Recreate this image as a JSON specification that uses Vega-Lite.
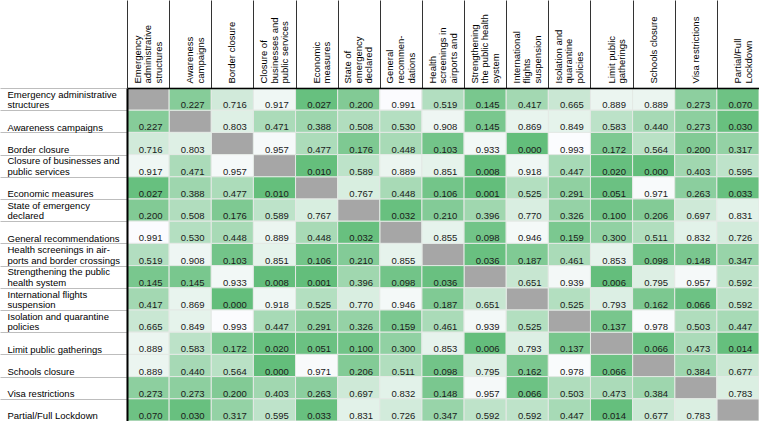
{
  "$schema": "https://vega.github.io/schema/vega-lite/v6.json",
  "width": 632,
  "height": 333,
  "autosize": {"type": "none"},
  "padding": {"left": 127, "top": 88, "right": 0, "bottom": 0},
  "background": "white",
  "config": {"view": {"stroke": "black", "strokeWidth": 1}, "font": "Liberation Sans"},
  "data": {"values": [
    {"row": "Emergency administrative|structures", "c01": null, "c02": 0.227, "c03": 0.716, "c04": 0.917, "c05": 0.027, "c06": 0.200, "c07": 0.991, "c08": 0.519, "c09": 0.145, "c10": 0.417, "c11": 0.665, "c12": 0.889, "c13": 0.889, "c14": 0.273, "c15": 0.070},
    {"row": "|Awareness campaigns", "c01": 0.227, "c02": null, "c03": 0.803, "c04": 0.471, "c05": 0.388, "c06": 0.508, "c07": 0.530, "c08": 0.908, "c09": 0.145, "c10": 0.869, "c11": 0.849, "c12": 0.583, "c13": 0.440, "c14": 0.273, "c15": 0.030},
    {"row": "|Border closure", "c01": 0.716, "c02": 0.803, "c03": null, "c04": 0.957, "c05": 0.477, "c06": 0.176, "c07": 0.448, "c08": 0.103, "c09": 0.933, "c10": 0.000, "c11": 0.993, "c12": 0.172, "c13": 0.564, "c14": 0.200, "c15": 0.317},
    {"row": "Closure of businesses and|public services", "c01": 0.917, "c02": 0.471, "c03": 0.957, "c04": null, "c05": 0.010, "c06": 0.589, "c07": 0.889, "c08": 0.851, "c09": 0.008, "c10": 0.918, "c11": 0.447, "c12": 0.020, "c13": 0.000, "c14": 0.403, "c15": 0.595},
    {"row": "|Economic measures", "c01": 0.027, "c02": 0.388, "c03": 0.477, "c04": 0.010, "c05": null, "c06": 0.767, "c07": 0.448, "c08": 0.106, "c09": 0.001, "c10": 0.525, "c11": 0.291, "c12": 0.051, "c13": 0.971, "c14": 0.263, "c15": 0.033},
    {"row": "State of emergency|declared", "c01": 0.200, "c02": 0.508, "c03": 0.176, "c04": 0.589, "c05": 0.767, "c06": null, "c07": 0.032, "c08": 0.210, "c09": 0.396, "c10": 0.770, "c11": 0.326, "c12": 0.100, "c13": 0.206, "c14": 0.697, "c15": 0.831},
    {"row": "|General recommendations", "c01": 0.991, "c02": 0.530, "c03": 0.448, "c04": 0.889, "c05": 0.448, "c06": 0.032, "c07": null, "c08": 0.855, "c09": 0.098, "c10": 0.946, "c11": 0.159, "c12": 0.300, "c13": 0.511, "c14": 0.832, "c15": 0.726},
    {"row": "Health screenings in air-|ports and border crossings", "c01": 0.519, "c02": 0.908, "c03": 0.103, "c04": 0.851, "c05": 0.106, "c06": 0.210, "c07": 0.855, "c08": null, "c09": 0.036, "c10": 0.187, "c11": 0.461, "c12": 0.853, "c13": 0.098, "c14": 0.148, "c15": 0.347},
    {"row": "Strengthening the public|health system", "c01": 0.145, "c02": 0.145, "c03": 0.933, "c04": 0.008, "c05": 0.001, "c06": 0.396, "c07": 0.098, "c08": 0.036, "c09": null, "c10": 0.651, "c11": 0.939, "c12": 0.006, "c13": 0.795, "c14": 0.957, "c15": 0.592},
    {"row": "International flights|suspension", "c01": 0.417, "c02": 0.869, "c03": 0.000, "c04": 0.918, "c05": 0.525, "c06": 0.770, "c07": 0.946, "c08": 0.187, "c09": 0.651, "c10": null, "c11": 0.525, "c12": 0.793, "c13": 0.162, "c14": 0.066, "c15": 0.592},
    {"row": "Isolation and quarantine|policies", "c01": 0.665, "c02": 0.849, "c03": 0.993, "c04": 0.447, "c05": 0.291, "c06": 0.326, "c07": 0.159, "c08": 0.461, "c09": 0.939, "c10": 0.525, "c11": null, "c12": 0.137, "c13": 0.978, "c14": 0.503, "c15": 0.447},
    {"row": "|Limit public gatherings", "c01": 0.889, "c02": 0.583, "c03": 0.172, "c04": 0.020, "c05": 0.051, "c06": 0.100, "c07": 0.300, "c08": 0.853, "c09": 0.006, "c10": 0.793, "c11": 0.137, "c12": null, "c13": 0.066, "c14": 0.473, "c15": 0.014},
    {"row": "|Schools closure", "c01": 0.889, "c02": 0.440, "c03": 0.564, "c04": 0.000, "c05": 0.971, "c06": 0.206, "c07": 0.511, "c08": 0.098, "c09": 0.795, "c10": 0.162, "c11": 0.978, "c12": 0.066, "c13": null, "c14": 0.384, "c15": 0.677},
    {"row": "|Visa restrictions", "c01": 0.273, "c02": 0.273, "c03": 0.200, "c04": 0.403, "c05": 0.263, "c06": 0.697, "c07": 0.832, "c08": 0.148, "c09": 0.957, "c10": 0.066, "c11": 0.503, "c12": 0.473, "c13": 0.384, "c14": null, "c15": 0.783},
    {"row": "|Partial/Full Lockdown", "c01": 0.070, "c02": 0.030, "c03": 0.317, "c04": 0.595, "c05": 0.033, "c06": 0.831, "c07": 0.726, "c08": 0.347, "c09": 0.592, "c10": 0.592, "c11": 0.447, "c12": 0.014, "c13": 0.677, "c14": 0.783, "c15": null}
  ]},
  "transform": [
    {"fold": ["c01", "c02", "c03", "c04", "c05", "c06", "c07", "c08", "c09", "c10", "c11", "c12", "c13", "c14", "c15"], "as": ["col", "p"]}
  ],
  "encoding": {
    "x": {
      "field": "col", "type": "nominal",
      "scale": {"paddingInner": 0, "paddingOuter": 0},
      "axis": {
        "orient": "top", "title": null, "zindex": 1,
        "labelAngle": -90, "labelAlign": "left", "labelBaseline": "middle",
        "labelOffset": -11, "labelPadding": -83,
        "ticks": true, "tickSize": 88, "tickBand": "extent", "tickColor": "#333333", "tickWidth": 1,
        "domain": true, "domainColor": "black", "domainWidth": 1.5,
        "labelFont": "Liberation Sans", "labelFontSize": 9.5, "labelColor": "black", "labelLineHeight": 10.6,
        "labelOverlap": false, "labelLimit": 200,
        "labelExpr": "[['Emergency','administrative','structures'],['','Awareness','campaigns'],['','','Border closure'],['Closure of','businesses and','public services'],['','Economic','measures'],['State of','emergency','declared'],['General','recommen-','dations'],['Health','screenings in','airports and'],['Strengthening','the public health','system'],['International','flights','suspension'],['Isolation and','quarantine','policies'],['','Limit public','gatherings'],['','','Schools closure'],['','','Visa restrictions'],['','Partial/Full','Lockdown']][toNumber(substring(datum.label,1))-1]"
      }
    },
    "y": {
      "field": "row", "type": "nominal",
      "sort": ["Emergency administrative|structures", "|Awareness campaigns", "|Border closure", "Closure of businesses and|public services", "|Economic measures", "State of emergency|declared", "|General recommendations", "Health screenings in air-|ports and border crossings", "Strengthening the public|health system", "International flights|suspension", "Isolation and quarantine|policies", "|Limit public gatherings", "|Schools closure", "|Visa restrictions", "|Partial/Full Lockdown"],
      "scale": {"paddingInner": 0, "paddingOuter": 0},
      "axis": {
        "orient": "left", "title": null, "zindex": 1,
        "labelAlign": "left", "labelBaseline": "alphabetic", "labelOffset": -1.8, "labelPadding": -7,
        "ticks": true, "tickSize": 127, "tickBand": "extent", "tickColor": "#bdbdbd", "tickWidth": 1,
        "domain": true, "domainColor": "black", "domainWidth": 2,
        "labelFont": "Liberation Sans", "labelFontSize": 9.5, "labelColor": "black", "labelLineHeight": 10.7,
        "labelOverlap": false, "labelLimit": 200,
        "labelExpr": "split(datum.label,'|')"
      }
    }
  },
  "layer": [
    {
      "transform": [{"filter": "datum.p === null"}],
      "mark": {"type": "rect", "fill": "#a6a6a6", "stroke": "#e4e9e5", "strokeWidth": 1}
    },
    {
      "transform": [{"filter": "isValid(datum.p)"}],
      "mark": {"type": "rect", "stroke": "#e4e9e5", "strokeWidth": 1},
      "encoding": {
        "color": {
          "field": "p", "type": "quantitative",
          "scale": {"domain": [0, 1], "range": ["#63be7b", "#fcfcff"], "interpolate": "rgb"},
          "legend": null
        }
      }
    },
    {
      "transform": [{"filter": "isValid(datum.p)"}],
      "mark": {"type": "text", "font": "Liberation Sans", "fontSize": 9.5, "color": "#1a1a1a", "dx": 2.5, "dy": 9, "baseline": "alphabetic", "align": "center"},
      "encoding": {"text": {"field": "p", "type": "quantitative", "format": ".3f"}}
    }
  ]
}
